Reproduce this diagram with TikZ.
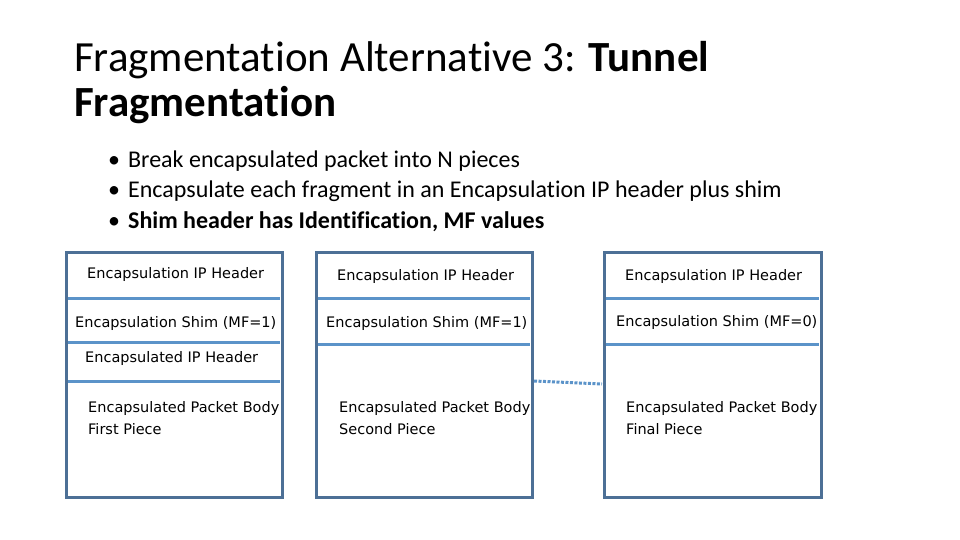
\documentclass[tikz,border=0pt]{standalone}
\usepackage{fontspec}
\setmainfont[Ligatures=NoCommon]{Carlito}
\newfontfamily\boxfont{DejaVu Sans}
\definecolor{frame}{HTML}{4D7096}
\definecolor{sep}{HTML}{5B93C9}
\begin{document}
\begin{tikzpicture}[x=1pt,y=-1pt,
  box/.style={draw=frame,line width=3pt},
  sepl/.style={draw=sep,line width=3pt},
  lbl/.style={font=\boxfont\fontsize{14.5}{22}\selectfont,anchor=west,inner sep=0pt,align=left},
  bul/.style={font=\fontsize{24}{28}\selectfont,anchor=west,inner sep=0pt}]
\useasboundingbox (0,0) rectangle (960,540);
\node[anchor=base west,inner sep=0pt,font=\fontsize{43}{50}\selectfont] (t1) at (74,72) {Fragmentation Alternative 3: \textbf{Tunnel}};
\node[anchor=base west,inner sep=0pt,font=\fontsize{43}{50}\selectfont\bfseries] (t2) at (74,117) {Fragmentation};
\node[bul] (b1) at (108,161) {•\hspace{8pt}Break encapsulated packet into N pieces};
\node[bul] (b2) at (108,191) {•\hspace{8pt}Encapsulate each fragment in an Encapsulation IP header plus shim};
\node[bul] (b3) at (108,222) {•\hspace{8pt}\textbf{Shim header has Identification, MF values}};
% box 1
\draw[box] (66,252) rectangle (282,497);
\draw[sepl] (68,298) -- (280,298);
\draw[sepl] (68,342) -- (280,342);
\draw[sepl] (68,381) -- (280,381);
\node[lbl] (a1) at (87,274) {Encapsulation IP Header};
\node[lbl] (a2) at (75,323) {Encapsulation Shim (MF=1)};
\node[lbl] (a3) at (85,358) {Encapsulated IP Header};
\node[lbl,anchor=north west] (a4) at (88,401) {Encapsulated Packet Body\\First Piece};
% box 2
\draw[box] (316,252) rectangle (532,497);
\draw[sepl] (318,298) -- (530,298);
\draw[sepl] (318,344) -- (530,344);
\node[lbl] (c1) at (337,276) {Encapsulation IP Header};
\node[lbl] (c2) at (326,323) {Encapsulation Shim (MF=1)};
\node[lbl,anchor=north west] (c4) at (339,401) {Encapsulated Packet Body\\Second Piece};
% box 3
\draw[box] (604,252) rectangle (821,497);
\draw[sepl] (606,298) -- (819,298);
\draw[sepl] (606,344) -- (819,344);
\node[lbl] (d1) at (625,276) {Encapsulation IP Header};
\node[lbl] (d2) at (616,322) {Encapsulation Shim (MF=0)};
\node[lbl,anchor=north west] (d4) at (626,401) {Encapsulated Packet Body\\Final Piece};
\coordinate (p1) at (534,381);
\coordinate (p2) at (602,384);
\draw[sep,line width=3pt,dash pattern=on 3pt off 1.5pt] (p1) -- (p2);
\end{tikzpicture}
\end{document}
